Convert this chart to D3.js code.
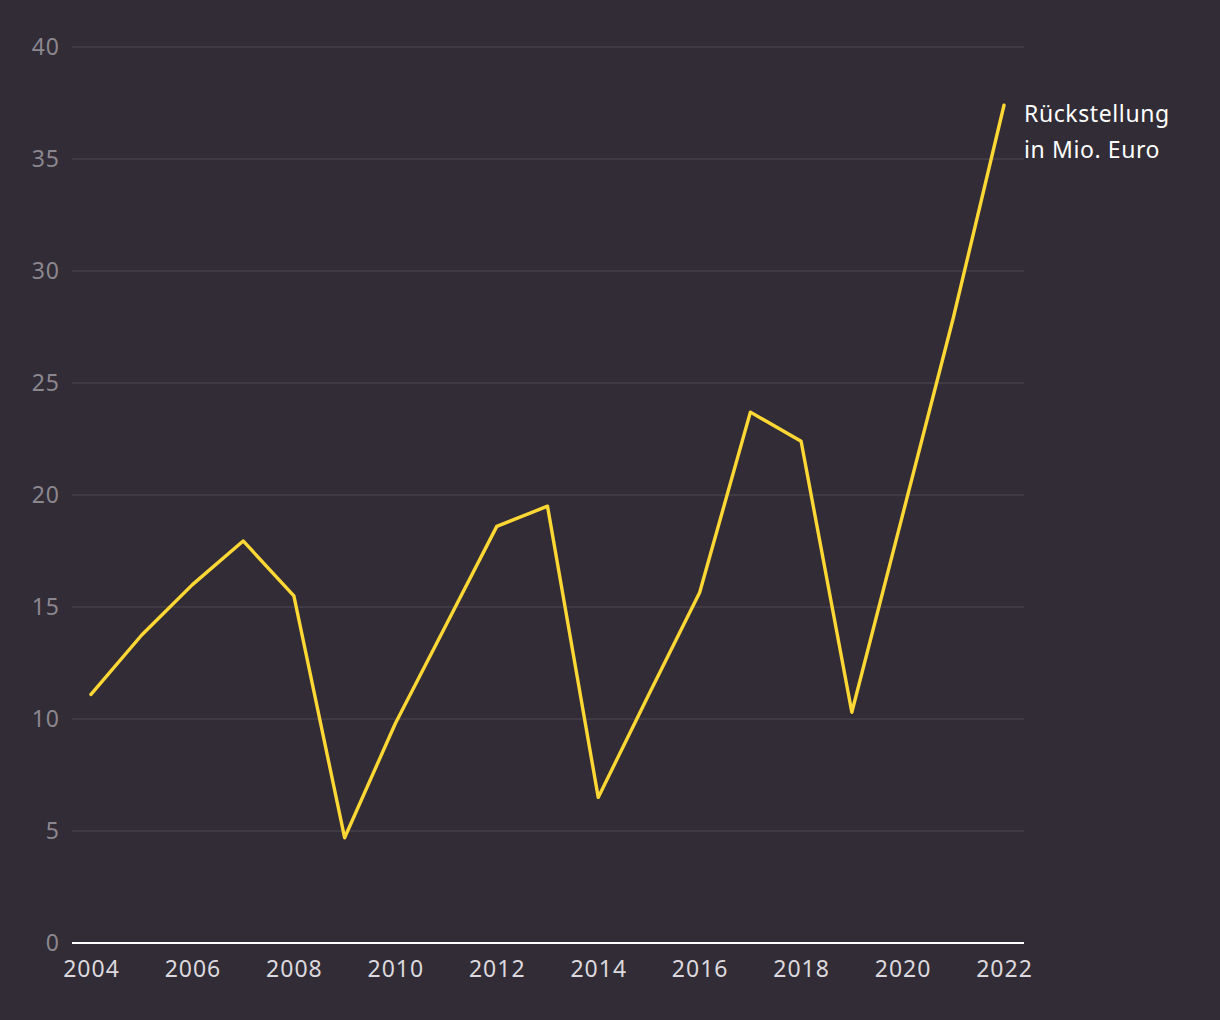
<!DOCTYPE html>
<html>
<head>
<meta charset="utf-8">
<script src="https://cdn.jsdelivr.net/npm/d3@7"></script>
<style>
  html, body { margin: 0; padding: 0; background: #312c35; }
  svg { display: block; font-family: "Noto Sans", "Open Sans", sans-serif; }
</style>
</head>
<body>
<svg id="chart" width="1220" height="1020"></svg>
<script>
const years = [2004,2005,2006,2007,2008,2009,2010,2011,2012,2013,2014,2015,2016,2017,2018,2019,2020,2021,2022];
const values = [11.1,13.75,16.0,17.95,15.5,4.7,9.8,14.2,18.6,19.5,6.5,11.1,15.65,23.7,22.4,10.3,19.1,27.9,37.4];
const yTicks = [0,5,10,15,20,25,30,35,40];
const xTicks = [2004,2006,2008,2010,2012,2014,2016,2018,2020,2022];
const labelLines = ["Rückstellung", "in Mio. Euro"];

const svg = d3.select("#chart");
const x = d3.scaleLinear().domain([2004, 2022]).range([91, 1004]);
const y = d3.scaleLinear().domain([0, 40]).range([943, 47]);
const gridLeft = 72, gridRight = 1024;

// gridlines
svg.append("g").selectAll("line").data(yTicks.filter(d => d > 0)).join("line")
  .attr("x1", gridLeft).attr("x2", gridRight)
  .attr("y1", d => y(d)).attr("y2", d => y(d))
  .attr("stroke", "#4e4953").attr("stroke-width", 1.2);

// y axis labels
const yAxis = d3.axisLeft(y).tickValues(yTicks).tickSize(0).tickPadding(0).tickFormat(d3.format("d"));
const gy = svg.append("g").attr("transform", `translate(60,0)`).call(yAxis);
gy.select(".domain").remove();
gy.selectAll("text").attr("fill", "#8c878f").attr("font-size", 23)
  .attr("letter-spacing", 1).attr("font-family", "'Noto Sans', sans-serif");

// baseline
svg.append("line").attr("x1", gridLeft).attr("x2", gridRight)
  .attr("y1", y(0)).attr("y2", y(0)).attr("stroke", "#ffffff").attr("stroke-width", 2);

// x axis labels
const xAxis = d3.axisBottom(x).tickValues(xTicks).tickSize(0).tickPadding(18).tickFormat(d3.format("d"));
const gx = svg.append("g").attr("transform", `translate(0,${y(0)})`).call(xAxis);
gx.select(".domain").remove();
gx.selectAll("text").attr("fill", "#dcd9de").attr("font-size", 23)
  .attr("letter-spacing", 1).attr("font-family", "'Noto Sans', sans-serif");

// line
const data = years.map((yr, i) => ({year: yr, value: values[i]}));
const line = d3.line().x(d => x(d.year)).y(d => y(d.value));
svg.append("path").datum(data)
  .attr("d", line)
  .attr("fill", "none")
  .attr("stroke", "#fdd835")
  .attr("stroke-width", 3.4)
  .attr("stroke-linejoin", "round")
  .attr("stroke-linecap", "round");

// label
const last = data[data.length - 1];
const lbl = svg.append("text")
  .attr("x", x(last.year) + 20)
  .attr("y", y(last.value) + 17)
  .attr("fill", "#ffffff")
  .attr("font-size", 23)
  .attr("letter-spacing", 0.6)
  .attr("font-family", "'Noto Sans', sans-serif");
labelLines.forEach((t, i) => {
  lbl.append("tspan").attr("x", x(last.year) + 20).attr("dy", i === 0 ? 0 : 36).text(t);
});
</script>
</body>
</html>
